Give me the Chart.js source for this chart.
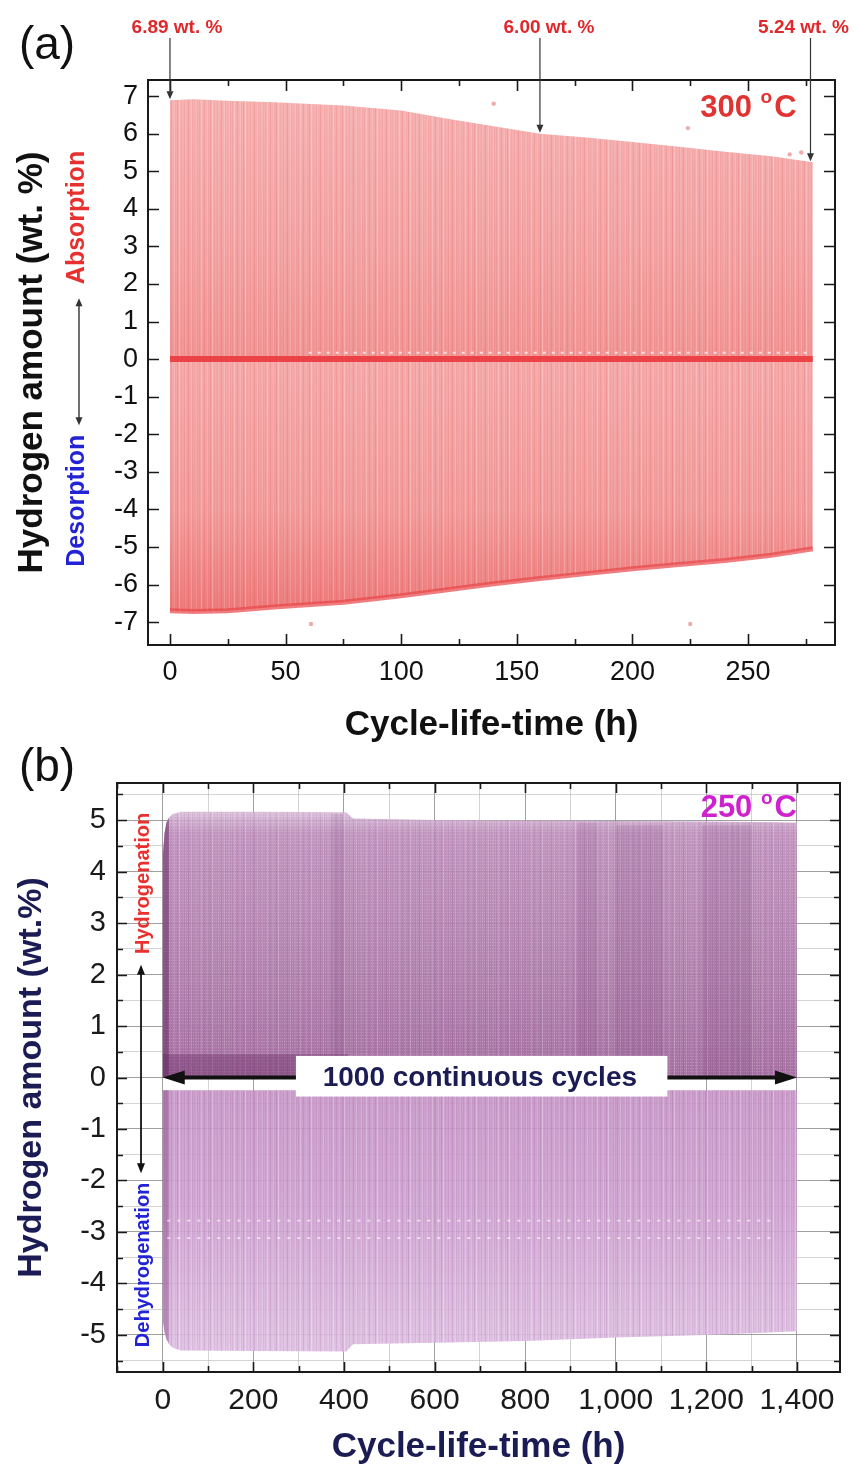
<!DOCTYPE html>
<html>
<head>
<meta charset="utf-8">
<title>Hydrogen cycling at 300 and 250 °C</title>
<script src="https://cdn.jsdelivr.net/npm/chart.js@4.4.0/dist/chart.umd.min.js"></script>
<style>
  html, body { margin: 0; padding: 0; background: #fff; }
  #wrap { position: relative; width: 854px; height: 1470px; overflow: hidden; }
  canvas { position: absolute; left: 0; }
  #chartA { top: 0; }
  #chartB { top: 735px; }
</style>
</head>
<body>
<div id="wrap">
  <canvas id="chartA" width="854" height="750"></canvas>
  <canvas id="chartB" width="854" height="735"></canvas>
</div>
<script>
// ---- panel (a): 300 °C cycling envelope ----
const timeA    = [0, 10, 25, 45, 75, 100, 120, 140, 160, 180, 200, 220, 240, 260, 278];
const absorbA  = [6.89, 6.92, 6.88, 6.84, 6.75, 6.62, 6.40, 6.20, 6.00, 5.90, 5.78, 5.65, 5.52, 5.40, 5.24];
const desorbA  = [-6.70, -6.72, -6.70, -6.60, -6.47, -6.30, -6.14, -5.98, -5.84, -5.71, -5.58, -5.47, -5.36, -5.22, -5.05];
const speckleTimeA  = [60, 278];
const speckleValueA = [0.17, 0.17];
const strayTimeA  = [61, 140, 224, 225, 268, 273];
const strayValueA = [-7.05, 6.80, 6.15, -7.05, 5.45, 5.50];
const noteTimeA  = [0, 160, 277];
const noteValueA = [6.89, 6.00, 5.24];
const noteTextA  = ['6.89 wt. %', '6.00 wt. %', '5.24 wt. %'];
const xMajorA = [0, 50, 100, 150, 200, 250];
const xMinorA = [25, 75, 125, 175, 225, 275];
const yMajorA = [-7, -6, -5, -4, -3, -2, -1, 0, 1, 2, 3, 4, 5, 6, 7];

// ---- panel (b): 250 °C, 1000 cycles ----
const timeB    = [0, 4, 8, 14, 22, 40, 200, 405, 420, 600, 800, 1000, 1200, 1350, 1400];
const hydroB   = [4.30, 4.75, 4.95, 5.05, 5.12, 5.16, 5.16, 5.15, 5.03, 5.00, 4.99, 4.98, 4.97, 4.96, 4.95];
const dehydroB = [-4.70, -4.95, -5.08, -5.18, -5.25, -5.30, -5.31, -5.32, -5.18, -5.15, -5.12, -5.05, -5.00, -4.95, -4.93];
const dehydroStartB = -0.25;
const denseBandTimeB  = [0, 410];
const denseBandValueB = [0.45, 0.45];
const darkStripTimeB  = [[372, 398], [915, 960], [1000, 1105], [1190, 1300]];
const darkStripTopB   = [5.12, 4.95, 4.9, 4.9];
const dotRowTimeB  = [10, 1350];
const dotRowValueB = [-2.78, -3.12];
const xMajorB = [0, 200, 400, 600, 800, 1000, 1200, 1400];
const xMinorB = [-100, 100, 300, 500, 700, 900, 1100, 1300];
const yMajorB = [-5, -4, -3, -2, -1, 0, 1, 2, 3, 4, 5];
const yMinorB = [-5.5, -4.5, -3.5, -2.5, -1.5, -0.5, 0.5, 1.5, 2.5, 3.5, 4.5, 5.5];

const SANS = '"Liberation Sans", Arial, Helvetica, sans-serif';
const NAVY = '#1c1c55';

const pts = (xs, ys) => xs.map((x, i) => ({ x: x, y: ys[i] }));

// vertical gradient anchored to y-axis values
function vGradient(chart, stops) {
  const { ctx, chartArea, scales } = chart;
  if (!chartArea) return 'transparent';
  const y = scales.y;
  const top = y.getPixelForValue(stops[0][0]);
  const bot = y.getPixelForValue(stops[stops.length - 1][0]);
  const g = ctx.createLinearGradient(0, top, 0, bot);
  stops.forEach(([v, c]) => g.addColorStop(Math.min(1, Math.max(0, (y.getPixelForValue(v) - top) / (bot - top))), c));
  return g;
}

// streaky fill texture: one column per entry, >0 darker, <0 lighter
const STREAKS = [0, 0.10, 0, -0.25, 0, 0.05, 0.14, 0, 0, -0.15, 0.08, 0, 0.18, 0, -0.3, 0, 0.06, 0, 0, 0.12,
                 -0.1, 0, 0.04, 0.16, 0, 0, -0.2, 0.09, 0, 0.05, 0, -0.12, 0.1];
function streakPattern(rgb, gain, rowGap) {
  const c = document.createElement('canvas');
  c.width = STREAKS.length;
  c.height = rowGap || 4;
  const g = c.getContext('2d');
  STREAKS.forEach((a, i) => {
    g.fillStyle = a > 0 ? `rgba(${rgb},${a * gain})` : `rgba(255,255,255,${-a * gain})`;
    if (a !== 0) g.fillRect(i, 0, 1, c.height);
  });
  if (rowGap) {
    g.fillStyle = 'rgba(255,255,255,0.16)';
    for (let i = 0; i < c.width; i += 2) g.fillRect(i, 0, 1, 1);
  }
  return g.createPattern(c, 'repeat');
}

function arrow(ctx, x1, y1, x2, y2, width, head, half, color, both) {
  const ang = Math.atan2(y2 - y1, x2 - x1);
  ctx.save();
  ctx.strokeStyle = color;
  ctx.fillStyle = color;
  ctx.lineWidth = width;
  ctx.beginPath();
  ctx.moveTo(x1 + (both ? head * 0.6 * Math.cos(ang) : 0), y1 + (both ? head * 0.6 * Math.sin(ang) : 0));
  ctx.lineTo(x2 - head * 0.6 * Math.cos(ang), y2 - head * 0.6 * Math.sin(ang));
  ctx.stroke();
  const tip = (x, y, a) => {
    ctx.beginPath();
    ctx.moveTo(x, y);
    ctx.lineTo(x - head * Math.cos(a) + half * Math.sin(a), y - head * Math.sin(a) - half * Math.cos(a));
    ctx.lineTo(x - head * Math.cos(a) - half * Math.sin(a), y - head * Math.sin(a) + half * Math.cos(a));
    ctx.closePath();
    ctx.fill();
  };
  tip(x2, y2, ang);
  if (both) tip(x1, y1, ang + Math.PI);
  ctx.restore();
}

function vText(ctx, text, x, y, font, color) {
  ctx.save();
  ctx.translate(x, y);
  ctx.rotate(-Math.PI / 2);
  ctx.font = font;
  ctx.fillStyle = color;
  ctx.textAlign = 'center';
  ctx.textBaseline = 'middle';
  ctx.fillText(text, 0, 0);
  ctx.restore();
}

// "300 °C" style label, right aligned
function degText(ctx, num, xRight, yMid, size, color) {
  ctx.save();
  ctx.fillStyle = color;
  ctx.textBaseline = 'middle';
  ctx.textAlign = 'left';
  ctx.font = `bold ${size}px ${SANS}`;
  const wNum = ctx.measureText(num + ' ').width;
  const wC = ctx.measureText('C').width;
  const small = Math.round(size * 0.62);
  ctx.font = `bold ${small}px ${SANS}`;
  const wO = ctx.measureText('o').width;
  let x = xRight - wNum - wO - wC - 2;
  ctx.font = `bold ${size}px ${SANS}`;
  ctx.fillText(num + ' ', x, yMid);
  x += wNum;
  ctx.font = `bold ${small}px ${SANS}`;
  ctx.fillText('o', x, yMid - size * 0.33);
  x += wO + 2;
  ctx.font = `bold ${size}px ${SANS}`;
  ctx.fillText('C', x, yMid);
  ctx.restore();
}

// box around the plot with inward ticks on all four sides
const framePlugin = {
  id: 'frame',
  afterDatasetsDraw(chart, args, o) {
    const { ctx, chartArea: a, scales: { x, y } } = chart;
    ctx.save();
    ctx.strokeStyle = '#1a1a1a';
    ctx.lineWidth = 1.6;
    const mark = (vals, len, horizontal) => {
      vals.forEach(v => {
        ctx.beginPath();
        if (horizontal) {
          const px = Math.round(x.getPixelForValue(v)) + 0.5;
          if (px < a.left || px > a.right) return;
          ctx.moveTo(px, a.bottom); ctx.lineTo(px, a.bottom - len);
          ctx.moveTo(px, a.top); ctx.lineTo(px, a.top + len);
        } else {
          const py = Math.round(y.getPixelForValue(v)) + 0.5;
          if (py < a.top || py > a.bottom) return;
          ctx.moveTo(a.left, py); ctx.lineTo(a.left + len, py);
          ctx.moveTo(a.right, py); ctx.lineTo(a.right - len, py);
        }
        ctx.stroke();
      });
    };
    mark(o.xMajor, o.major, true);
    mark(o.xMinor, o.minor, true);
    mark(o.yMajor, o.major, false);
    mark(o.yMinor, o.minor, false);
    ctx.lineWidth = 2;
    ctx.strokeRect(a.left, a.top, a.right - a.left, a.bottom - a.top);
    ctx.restore();
  }
};

const notesPluginA = {
  id: 'notesA',
  afterDraw(chart) {
    const { ctx, chartArea: a, scales: { x, y } } = chart;
    ctx.save();
    ctx.fillStyle = '#111';
    ctx.font = `46px ${SANS}`;
    ctx.textAlign = 'center';
    ctx.textBaseline = 'middle';
    ctx.fillText('(a)', 47, 46);

    const shift = [7, 9, -7];
    noteTimeA.forEach((t, i) => {
      const px = x.getPixelForValue(t);
      ctx.font = `bold 19px ${SANS}`;
      ctx.fillStyle = '#e0282b';
      ctx.textAlign = 'center';
      ctx.fillText(noteTextA[i], px + shift[i], 28);
      arrow(ctx, px, 38, px, y.getPixelForValue(noteValueA[i]) - 1, 1.2, 8, 3.5, '#333');
    });

    degText(ctx, '300', x.getPixelForValue(271), y.getPixelForValue(6.68), 31, '#e23333');

    const sx = a.left - 71;
    vText(ctx, 'Absorption', sx, y.getPixelForValue(3.77), `bold 25px ${SANS}`, '#e8302e');
    vText(ctx, 'Desorption', sx, y.getPixelForValue(-3.77), `bold 25px ${SANS}`, '#2323d6');
    arrow(ctx, sx + 2, y.getPixelForValue(-1.76), sx + 2, y.getPixelForValue(1.62), 1.4, 8, 3.5, '#333', true);
    ctx.restore();
  }
};

const notesPluginB = {
  id: 'notesB',
  afterDatasetsDraw(chart) {
    const { ctx, scales: { x, y } } = chart;
    ctx.save();
    // 1000 continuous cycles: double arrow on the zero line
    const y0 = y.getPixelForValue(0);
    arrow(ctx, x.getPixelForValue(timeB[0]), y0, x.getPixelForValue(timeB[timeB.length - 1]), y0, 4, 22, 7, '#111', true);
    const bx1 = x.getPixelForValue(294), bx2 = x.getPixelForValue(1114);
    const by1 = y.getPixelForValue(0.42), by2 = y.getPixelForValue(-0.37);
    ctx.fillStyle = '#fff';
    ctx.fillRect(bx1, by1, bx2 - bx1, by2 - by1);
    ctx.fillStyle = NAVY;
    ctx.font = `bold 28px ${SANS}`;
    ctx.textAlign = 'center';
    ctx.textBaseline = 'middle';
    ctx.fillText('1000 continuous cycles', x.getPixelForValue(700), y0 + 1);

    const ax = x.getPixelForValue(-48);
    arrow(ctx, ax, y.getPixelForValue(-1.86), ax, y.getPixelForValue(2.19), 1.8, 10, 4, '#111', true);
    vText(ctx, 'Hydrogenation', ax + 2, y.getPixelForValue(3.77), `bold 20px ${SANS}`, '#e8302e');
    vText(ctx, 'Dehydrogenation', ax + 2, y.getPixelForValue(-3.64), `bold 20px ${SANS}`, '#2323d6');

    degText(ctx, '250', x.getPixelForValue(1400), y.getPixelForValue(5.22), 31, '#cf22cf');
    ctx.restore();
  },
  afterDraw(chart) {
    const { ctx } = chart;
    ctx.save();
    ctx.fillStyle = '#111';
    ctx.font = `46px ${SANS}`;
    ctx.textAlign = 'center';
    ctx.textBaseline = 'middle';
    ctx.fillText('(b)', 47, 33);
    ctx.restore();
  }
};

const area = { pointRadius: 0, borderWidth: 0, tension: 0 };
const streakRed = streakPattern('190,40,40', 0.8);
const streakPurple = streakPattern('90,30,90', 0.6, 3);
const streakLilac = streakPattern('120,50,120', 0.9);

const stripDatasets = darkStripTimeB.map((span, i) => ({
  ...area, data: pts(span, [darkStripTopB[i], darkStripTopB[i]]), fill: 'origin', order: 2,
  backgroundColor: 'rgba(90,30,90,0.1)'
}));

new Chart(document.getElementById('chartA'), {
  type: 'line',
  data: {
    datasets: [
      { ...area, data: pts(strayTimeA, strayValueA), showLine: false, pointRadius: 2.2,
        pointBackgroundColor: 'rgba(236,150,150,0.8)', pointBorderWidth: 0, order: 0 },
      { ...area, data: pts([timeA[0], timeA[timeA.length - 1]], [0, 0]), borderWidth: 6,
        borderColor: 'rgba(234,62,66,0.95)', fill: false, order: 1 },
      { ...area, data: pts(speckleTimeA, speckleValueA), borderWidth: 2, borderDash: [3, 6],
        borderColor: 'rgba(255,255,255,0.7)', fill: false, order: 1 },
      { ...area, data: pts(timeA, desorbA), borderWidth: 5, borderColor: 'rgba(232,70,72,0.7)',
        fill: false, order: 2 },
      { ...area, data: pts(timeA, desorbA), fill: 'origin', order: 2, backgroundColor: streakRed },
      { ...area, data: pts(timeA, absorbA), fill: 'origin', order: 2, backgroundColor: streakRed },
      { ...area, data: pts(timeA, desorbA), fill: 'origin', order: 3,
        backgroundColor: c => vGradient(c.chart, [[0, 'rgba(246,168,168,0.97)'], [-4, 'rgba(243,154,154,0.97)'], [-6.8, 'rgba(238,118,118,0.97)']]) },
      { ...area, data: pts(timeA, absorbA), fill: 'origin', order: 4,
        backgroundColor: c => vGradient(c.chart, [[7, 'rgba(247,176,176,0.97)'], [3, 'rgba(244,162,162,0.97)'], [0, 'rgba(242,146,146,0.97)']]) }
    ]
  },
  options: {
    responsive: false,
    animation: false,
    devicePixelRatio: 1,
    layout: { padding: { top: 80, right: 19, left: 0, bottom: 0 } },
    plugins: {
      legend: { display: false },
      tooltip: { enabled: false },
      frame: { xMajor: xMajorA, xMinor: xMinorA, yMajor: yMajorA, yMinor: [], major: 11, minor: 6 }
    },
    scales: {
      x: {
        type: 'linear', min: -9.5, max: 287.6,
        grid: { display: false, drawTicks: false }, border: { display: false },
        afterBuildTicks: s => { s.ticks = xMajorA.map(v => ({ value: v })); },
        afterFit: s => { s.height = 105; },
        ticks: { color: '#111', padding: 11, maxRotation: 0, font: { family: SANS, size: 27 } },
        title: { display: true, text: 'Cycle-life-time (h)', color: '#111',
                 font: { family: SANS, size: 35, weight: 'bold' }, padding: { top: 0, bottom: 4 } }
      },
      y: {
        type: 'linear', min: -7.61, max: 7.43,
        grid: { display: false, drawTicks: false }, border: { display: false },
        afterBuildTicks: s => { s.ticks = yMajorA.map(v => ({ value: v })); },
        afterFit: s => { s.width = 148; },
        ticks: { color: '#111', padding: 10, font: { family: SANS, size: 27 } },
        title: { display: true, text: 'Hydrogen amount (wt. %)', color: '#111',
                 font: { family: SANS, size: 35, weight: 'bold' }, padding: { top: 11, bottom: 0 } }
      }
    }
  },
  plugins: [framePlugin, notesPluginA]
});

new Chart(document.getElementById('chartB'), {
  type: 'line',
  data: {
    datasets: [
      ...dotRowValueB.map(v => ({ ...area, data: pts(dotRowTimeB, [v, v]), borderWidth: 1.6, borderDash: [3, 7],
        borderColor: 'rgba(255,255,255,0.65)', fill: false, order: 1 })),
      { ...area, data: pts(timeB.slice(0, 4), hydroB.slice(0, 4)), fill: 'origin', order: 2,
        backgroundColor: 'rgba(95,30,92,0.5)' },
      { ...area, data: pts(timeB.slice(0, 4), dehydroB.slice(0, 4)), fill: { value: dehydroStartB }, order: 2,
        backgroundColor: 'rgba(130,60,128,0.4)' },
      { ...area, data: pts(denseBandTimeB, denseBandValueB), fill: 'origin', order: 2,
        backgroundColor: 'rgba(105,45,100,0.4)' },
      ...stripDatasets,
      { ...area, data: pts(timeB, hydroB), fill: 'origin', order: 3, backgroundColor: streakPurple },
      { ...area, data: pts(timeB, dehydroB), fill: { value: dehydroStartB }, order: 3, backgroundColor: streakLilac },
      { ...area, data: pts(timeB, dehydroB), fill: { value: dehydroStartB }, order: 4,
        backgroundColor: c => vGradient(c.chart, [[dehydroStartB, 'rgba(198,148,198,0.9)'], [-2.5, 'rgba(206,160,208,0.9)'], [-5.3, 'rgba(222,190,226,0.9)']]) },
      { ...area, data: pts(timeB, hydroB), fill: 'origin', order: 5,
        backgroundColor: c => vGradient(c.chart, [[5.2, 'rgba(218,190,218,0.88)'], [4.75, 'rgba(188,140,186,0.9)'], [2, 'rgba(174,122,170,0.92)'], [0, 'rgba(162,106,158,0.94)']]) }
    ]
  },
  options: {
    responsive: false,
    animation: false,
    devicePixelRatio: 1,
    layout: { padding: { top: 48, right: 14, left: 0, bottom: 0 } },
    plugins: {
      legend: { display: false },
      tooltip: { enabled: false },
      frame: { xMajor: xMajorB, xMinor: xMinorB, yMajor: yMajorB, yMinor: yMinorB, major: 10, minor: 6 }
    },
    scales: {
      x: {
        type: 'linear', min: -101, max: 1495,
        grid: { drawTicks: false, lineWidth: 1,
                color: c => xMajorB.includes(c.tick.value) ? 'rgba(120,120,120,0.7)' : 'rgba(170,170,170,0.5)' },
        border: { display: false },
        afterBuildTicks: s => { s.ticks = [...xMinorB, ...xMajorB].sort((p, q) => p - q).map(v => ({ value: v })); },
        afterFit: s => { s.height = 98; },
        ticks: { color: '#1a1a1a', padding: 11, maxRotation: 0, autoSkip: false, font: { family: SANS, size: 30 },
                 callback: v => xMajorB.includes(v) ? v.toLocaleString('en-US') : '' },
        title: { display: true, text: 'Cycle-life-time (h)', color: NAVY,
                 font: { family: SANS, size: 35, weight: 'bold' }, padding: { top: 0, bottom: 2 } }
      },
      y: {
        type: 'linear', min: -5.72, max: 5.72,
        grid: { drawTicks: false, lineWidth: 1,
                color: c => yMajorB.includes(c.tick.value) ? 'rgba(120,120,120,0.7)' : 'rgba(170,170,170,0.5)' },
        border: { display: false },
        afterBuildTicks: s => { s.ticks = [...yMinorB, ...yMajorB].sort((p, q) => p - q).map(v => ({ value: v })); },
        afterFit: s => { s.width = 117; },
        ticks: { color: '#1a1a1a', padding: 11, autoSkip: false, font: { family: SANS, size: 29 },
                 callback: v => yMajorB.includes(v) ? v : '' },
        title: { display: true, text: 'Hydrogen amount (wt.%)', color: NAVY,
                 font: { family: SANS, size: 34, weight: 'bold' }, padding: { top: 11, bottom: 0 } }
      }
    }
  },
  plugins: [framePlugin, notesPluginB]
});
</script>
</body>
</html>
